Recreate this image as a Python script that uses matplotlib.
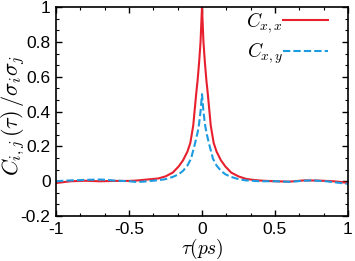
import numpy as np
import matplotlib
matplotlib.use("Agg")
import matplotlib.pyplot as plt
from matplotlib.ticker import MultipleLocator

plt.rcParams['mathtext.fontset'] = 'cm'
plt.rcParams['font.family'] = ['Liberation Sans', 'DejaVu Sans']

# time lag (ps)
tau_xx = [-1.0, -0.95, -0.9, -0.8, -0.7, -0.6, -0.5, -0.45, -0.4, -0.35, -0.3, -0.25, -0.2,
          -0.16, -0.13, -0.1, -0.08, -0.06, -0.04, -0.03, -0.02, -0.01, 0.0,
          0.01, 0.02, 0.03, 0.04, 0.06, 0.08, 0.1, 0.13, 0.16, 0.2, 0.25, 0.3, 0.35,
          0.4, 0.5, 0.6, 0.7, 0.8, 0.9, 0.95, 1.0]
c_xx = [-0.01, -0.005, 0.0, 0.003, 0.0, 0.002, 0.002, 0.004, 0.008, 0.012, 0.016, 0.028, 0.05,
        0.085, 0.12, 0.17, 0.22, 0.32, 0.5, 0.58, 0.68, 0.8, 1.0,
        0.8, 0.68, 0.58, 0.5, 0.32, 0.22, 0.17, 0.12, 0.085, 0.05, 0.028, 0.014, 0.008,
        0.004, 0.0, -0.002, 0.005, 0.004, 0.0, -0.004, -0.01]

tau_xy = [-1.0, -0.95, -0.9, -0.85, -0.8, -0.7, -0.65, -0.6, -0.5, -0.45, -0.4, -0.35, -0.3,
          -0.25, -0.2, -0.16, -0.13, -0.1, -0.075, -0.05, -0.03, -0.02, -0.01, 0.0,
          0.01, 0.02, 0.03, 0.05, 0.075, 0.1, 0.13, 0.16, 0.2, 0.25, 0.3,
          0.4, 0.5, 0.6, 0.7, 0.75, 0.85, 0.95, 1.0]
c_xy = [0.0, 0.003, 0.005, 0.006, 0.008, 0.01, 0.008, 0.004, 0.0, -0.004, -0.002, 0.002, 0.006,
        0.012, 0.025, 0.04, 0.06, 0.09, 0.13, 0.21, 0.28, 0.33, 0.4, 0.5,
        0.4, 0.33, 0.28, 0.21, 0.13, 0.09, 0.06, 0.04, 0.025, 0.012, 0.005,
        0.0, 0.0, -0.003, 0.003, 0.005, 0.0, -0.01, -0.015]

fig = plt.figure(figsize=(3.55, 2.61), dpi=100)
ax = fig.add_axes([0.158, 0.172, 0.822, 0.801])

ax.plot(tau_xx, c_xx, '-', color='#e8202e', lw=1.5, label=r'$C_{x,x}$')
ax.plot(tau_xy, c_xy, '--', color='#1c9be0', lw=1.5, dashes=(3.5, 1.5), label=r'$C_{x,y}$')

ax.set_xlim(-1, 1)
ax.set_ylim(-0.2, 1)
ax.set_xticks([-1, -0.5, 0, 0.5, 1])
ax.set_xticklabels(['-1', '-0.5', '0', '0.5', '1'])
ax.set_yticks([-0.2, 0, 0.2, 0.4, 0.6, 0.8, 1])
ax.set_yticklabels(['-0.2', '0', '0.2', '0.4', '0.6', '0.8', '1'])
ax.xaxis.set_minor_locator(MultipleLocator(1 / 6))
ax.yaxis.set_minor_locator(MultipleLocator(0.2 / 3))
ax.tick_params(which='both', direction='in', top=True, right=True, labelsize=12.5, pad=4)
ax.tick_params(which='major', length=4, width=1)
ax.tick_params(which='minor', length=2, width=0.8)
for s in ax.spines.values():
    s.set_linewidth(1.2)

ax.set_xlabel(r'$\tau(ps)$', fontsize=14, labelpad=0)
ax.set_ylabel(r'$C_{i,j}\,(\tau)\,/\sigma_i\sigma_j$', fontsize=16)
ax.yaxis.set_label_coords(-0.099, 0.483)

ax.legend(loc='upper right', frameon=False, markerfirst=False, fontsize=14,
          handlelength=2.3, handletextpad=0.0, labelspacing=0.3,
          borderaxespad=0.2, bbox_to_anchor=(0.972, 1.04))

fig.savefig('out.png', dpi=100)
